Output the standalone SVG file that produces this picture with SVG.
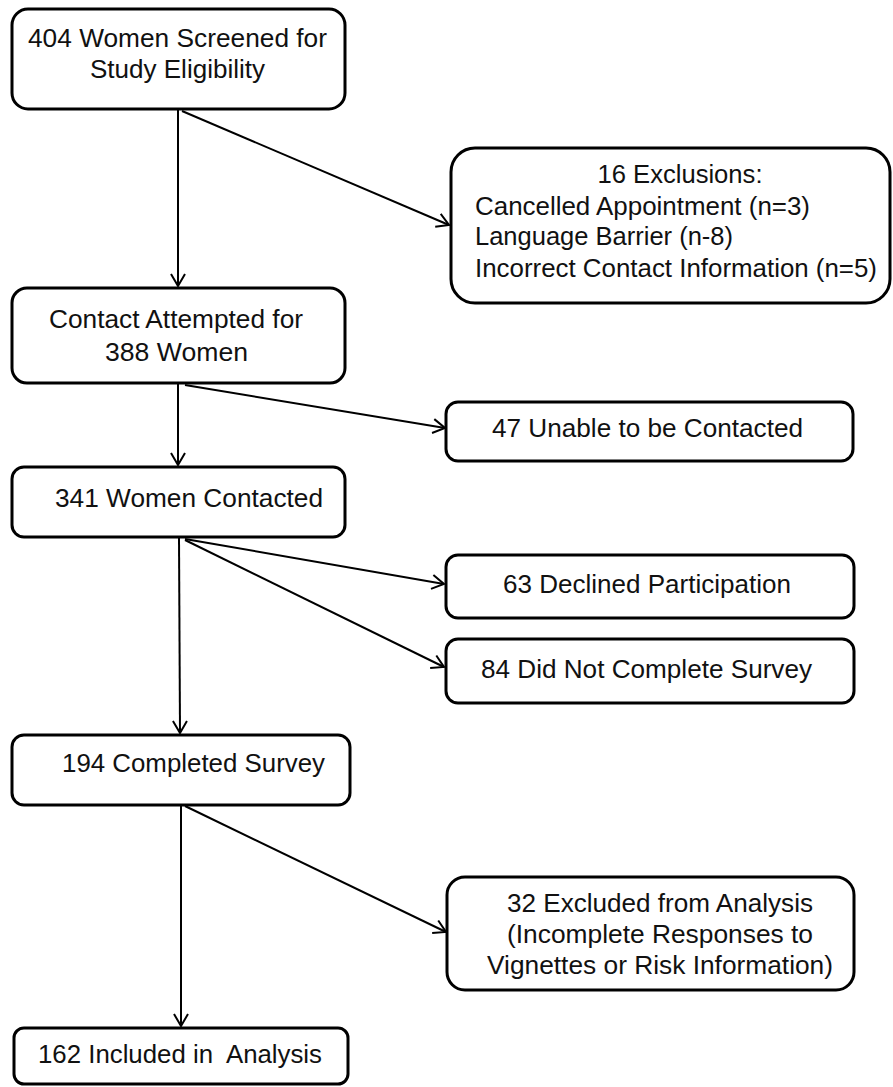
<svg xmlns="http://www.w3.org/2000/svg" width="893" height="1087" viewBox="0 0 893 1087">
<style>
.box{fill:#fff;stroke:#000;stroke-width:3}
.t{font-family:"Liberation Sans",Arial,sans-serif;font-size:25px;fill:#111;white-space:pre}
.c{text-anchor:middle}
.ln{stroke:#000;stroke-width:2;fill:none;marker-end:url(#ah)}
</style>
<defs>
<marker id="ah" viewBox="0 0 14 16" refX="13" refY="8" markerWidth="14" markerHeight="16" markerUnits="userSpaceOnUse" orient="auto">
<path d="M1,1 L13,8 L1,15" fill="none" stroke="#000" stroke-width="2"/>
</marker>
</defs>
<rect width="893" height="1087" fill="#fff"/>
<g id="connectors">
<line class="ln" x1="178" y1="110" x2="178" y2="286"/>
<line class="ln" x1="182" y1="111" x2="449" y2="225"/>
<line class="ln" x1="178" y1="384" x2="178" y2="465"/>
<line class="ln" x1="185" y1="385" x2="445" y2="428"/>
<line class="ln" x1="179" y1="538" x2="180" y2="733"/>
<line class="ln" x1="185" y1="539" x2="444" y2="584"/>
<line class="ln" x1="185" y1="540" x2="444" y2="667"/>
<line class="ln" x1="181" y1="806" x2="181" y2="1026"/>
<line class="ln" x1="185" y1="806" x2="446" y2="932"/>
</g>
<g id="screened">
<rect class="box" x="12" y="9" width="333" height="100" rx="16"/>
<text class="t c" x="177.5" y="47" textLength="299" lengthAdjust="spacingAndGlyphs">404 Women Screened for</text>
<text class="t c" x="177.5" y="78" textLength="175" lengthAdjust="spacingAndGlyphs">Study Eligibility</text>
</g>
<g id="exclusions">
<rect class="box" x="451" y="148" width="439" height="155" rx="24"/>
<text class="t c" x="680" y="183" textLength="165" lengthAdjust="spacingAndGlyphs">16 Exclusions:</text>
<text class="t" x="475" y="215" textLength="335" lengthAdjust="spacingAndGlyphs">Cancelled Appointment (n=3)</text>
<text class="t" x="475" y="245" textLength="258" lengthAdjust="spacingAndGlyphs">Language Barrier (n-8)</text>
<text class="t" x="475" y="277" textLength="402" lengthAdjust="spacingAndGlyphs">Incorrect Contact Information (n=5)</text>
</g>
<g id="contact">
<rect class="box" x="12" y="288" width="333" height="95" rx="15"/>
<text class="t c" x="176" y="328" textLength="254" lengthAdjust="spacingAndGlyphs">Contact Attempted for</text>
<text class="t c" x="176.5" y="361" textLength="143" lengthAdjust="spacingAndGlyphs">388 Women</text>
</g>
<g id="unable">
<rect class="box" x="446" y="402" width="407" height="59" rx="12"/>
<text class="t" x="492" y="437" textLength="311" lengthAdjust="spacingAndGlyphs">47 Unable to be Contacted</text>
</g>
<g id="contacted">
<rect class="box" x="12" y="467" width="333" height="70" rx="12"/>
<text class="t" x="55" y="507" textLength="268" lengthAdjust="spacingAndGlyphs">341 Women Contacted</text>
</g>
<g id="declined">
<rect class="box" x="446" y="555" width="408" height="63" rx="12"/>
<text class="t" x="503" y="593" textLength="288" lengthAdjust="spacingAndGlyphs">63 Declined Participation</text>
</g>
<g id="notcomplete">
<rect class="box" x="446" y="639" width="408" height="64" rx="12"/>
<text class="t" x="481" y="678" textLength="331" lengthAdjust="spacingAndGlyphs">84 Did Not Complete Survey</text>
</g>
<g id="completed">
<rect class="box" x="12" y="735" width="338" height="70" rx="12"/>
<text class="t" x="62" y="772" textLength="263" lengthAdjust="spacingAndGlyphs">194 Completed Survey</text>
</g>
<g id="excluded">
<rect class="box" x="447" y="877" width="407" height="113" rx="18"/>
<text class="t" x="507" y="912" textLength="306" lengthAdjust="spacingAndGlyphs">32 Excluded from Analysis</text>
<text class="t" x="507" y="943" textLength="306" lengthAdjust="spacingAndGlyphs">(Incomplete Responses to</text>
<text class="t" x="487" y="974" textLength="346" lengthAdjust="spacingAndGlyphs">Vignettes or Risk Information)</text>
</g>
<g id="included">
<rect class="box" x="14" y="1028" width="334" height="56" rx="10"/>
<text class="t" x="38" y="1063" textLength="284" lengthAdjust="spacingAndGlyphs" xml:space="preserve">162 Included in  Analysis</text>
</g>
</svg>
